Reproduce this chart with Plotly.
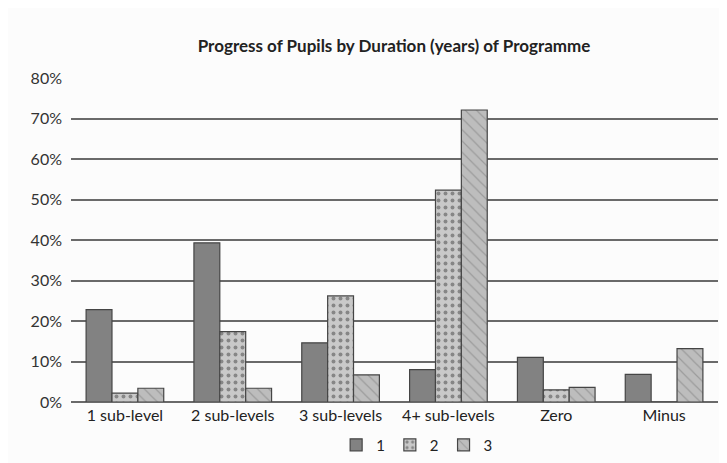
import plotly.graph_objects as go

categories = ["1 sub-level", "2 sub-levels", "3 sub-levels", "4+ sub-levels", "Zero", "Minus"]
series_names = ["1", "2", "3"]
s1 = [0.228, 0.393, 0.146, 0.080, 0.110, 0.068]
s2 = [0.022, 0.174, 0.262, 0.523, 0.030, 0.0]
s3 = [0.034, 0.034, 0.067, 0.721, 0.036, 0.132]
tick_vals = [0, 0.1, 0.2, 0.3, 0.4, 0.5, 0.6, 0.7, 0.8]
tick_text = ["0%", "10%", "20%", "30%", "40%", "50%", "60%", "70%", "80%"]

fig = go.Figure()
fig.add_trace(go.Bar(
    x=categories, y=s1, name=series_names[0],
    marker=dict(color="#828282", line=dict(color="#454545", width=1.2)),
))
fig.add_trace(go.Bar(
    x=categories, y=s2, name=series_names[1],
    marker=dict(color="#c9c9c9", line=dict(color="#454545", width=1.2),
                pattern=dict(shape=".", fgcolor="#444444", bgcolor="#c9c9c9", size=7, solidity=0.25)),
))
fig.add_trace(go.Bar(
    x=categories, y=s3, name=series_names[2],
    marker=dict(color="#bdbdbd", line=dict(color="#454545", width=1.2),
                pattern=dict(shape="\\", fgcolor="#7a7a7a", bgcolor="#bdbdbd", size=8, solidity=0.15)),
))

fig.update_layout(
    width=727, height=463,
    paper_bgcolor="#fcfcfc", plot_bgcolor="#fcfcfc",
    margin=dict(l=63, r=17, t=70, b=69, autoexpand=False),
    barmode="group", bargap=0.28, bargroupgap=0,
    title=dict(text="<b>Progress of Pupils by Duration (years) of Programme</b>",
               x=0.531, xanchor="center", y=0.918, yanchor="middle",
               font=dict(family="Lato", size=17, color="#222222")),
    font=dict(family="Lato", size=15, color="#333333"),
    legend=dict(orientation="h", x=0.535, xanchor="center", y=-0.133, yanchor="middle",
                font=dict(size=15, color="#222222"), traceorder="normal",
                itemwidth=30),
    showlegend=True,
)
fig.update_yaxes(range=[0, 0.8], tickvals=tick_vals, ticktext=tick_text, automargin=False,
                 showgrid=True, gridcolor="#6a6a6a", gridwidth=1.5,
                 zeroline=True, zerolinecolor="#6a6a6a", zerolinewidth=1.5,
                 ticks="", ticklabelstandoff=8, tickfont=dict(size=16, color="#333333"))
fig.update_xaxes(showline=False, ticks="", automargin=False, ticklabelstandoff=2,
                 tickfont=dict(size=16, color="#222222"))

fig.write_html("out.html")
